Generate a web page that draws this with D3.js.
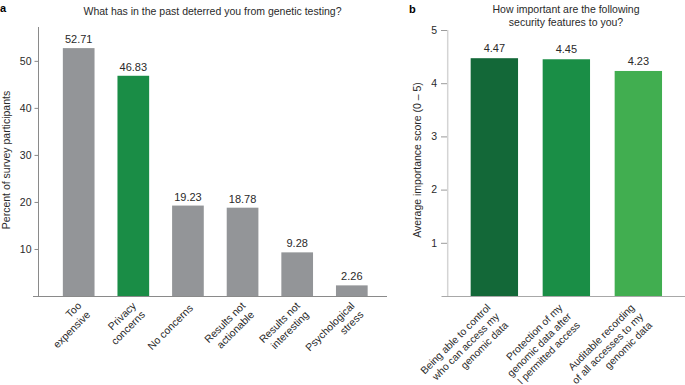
<!DOCTYPE html>
<html><head><meta charset="utf-8">
<script src="https://cdn.jsdelivr.net/npm/d3@7"></script>
<style>
html,body{margin:0;padding:0;background:#fff;}
svg{display:block;font-family:"Liberation Sans",Arial,Helvetica,sans-serif;}
</style></head>
<body><svg id="c" width="685" height="385"></svg>
<script>
// Panel a data
const catsA = [["Too","expensive"],["Privacy","concerns"],["No concerns"],["Results not","actionable"],["Results not","interesting"],["Psychological","stress"]];
const valsA = [52.71, 46.83, 19.23, 18.78, 9.28, 2.26];
const colorsA = ["#939598","#1a8d46","#939598","#939598","#939598","#939598"];
const ticksA = [10, 20, 30, 40, 50];
// Panel b data
const catsB = [["Being able to control","who can access my","genomic data"],["Protection of my","genomic data after","I permitted access"],["Auditable recording","of all accesses to my","genomic data"]];
const valsB = [4.47, 4.45, 4.23];
const colorsB = ["#136838","#1a8e46","#41ae50"];
const ticksB = [1, 2, 3, 4, 5];

const svg = d3.select("#c");
const txt = "#2a2a2a";
const base = 296;

// ---------- Panel a ----------
const xA = d3.scaleBand().domain(d3.range(valsA.length)).range([41, 389.5]).paddingInner(0.42).paddingOuter(0.4);
const yA = d3.scaleLinear().domain([0, 57.2]).range([base, 27]);
const gA = svg.append("g");
gA.append("line").attr("x1",38.5).attr("x2",38.5).attr("y1",yA(57.2)).attr("y2",base).attr("stroke","#8a8a8a").attr("stroke-width",1);
gA.append("line").attr("x1",33).attr("x2",387).attr("y1",base+0.5).attr("y2",base+0.5).attr("stroke","#8a8a8a").attr("stroke-width",1);
const axA = gA.append("g").attr("transform","translate(38.5,0)")
  .call(d3.axisLeft(yA).tickValues(ticksA).tickFormat(d3.format("d")).tickSize(4).tickPadding(3));
axA.select(".domain").remove();
axA.selectAll(".tick line").attr("stroke","#8a8a8a");
axA.selectAll(".tick text").attr("fill",txt).style("font-size","10.5px").style("font-family","inherit");
gA.selectAll("rect.bar").data(valsA).join("rect").attr("class","bar")
  .attr("x",(d,i)=>xA(i)).attr("width",xA.bandwidth())
  .attr("y",d=>yA(d)).attr("height",d=>base-yA(d))
  .attr("fill",(d,i)=>colorsA[i]);
gA.selectAll("text.val").data(valsA).join("text").attr("class","val")
  .attr("x",(d,i)=>xA(i)+xA.bandwidth()/2).attr("y",d=>yA(d)-5)
  .attr("text-anchor","middle").attr("fill",txt).style("font-size","11px")
  .text(d=>d.toFixed(2));
catsA.forEach((lines,i)=>{
  const cx = xA(i)+xA.bandwidth()/2;
  const g = gA.append("g").attr("transform",`translate(${cx},${base}) rotate(-45)`);
  const n = lines.length;
  const p0 = 9.4 - (n-1)*3.3;
  lines.forEach((l,k)=>{
    g.append("text").attr("x",-5).attr("y",p0 + k*12.6 + 3.7)
      .attr("text-anchor","end").attr("fill",txt).style("font-size","10.5px").text(l);
  });
});
gA.append("text").attr("transform",`translate(9.5,160) rotate(-90)`).attr("text-anchor","middle")
  .attr("fill",txt).style("font-size","10.5px").text("Percent of survey participants");
gA.append("text").attr("x",212.5).attr("y",15).attr("text-anchor","middle").attr("fill",txt)
  .style("font-size","10.5px").text("What has in the past deterred you from genetic testing?");
svg.append("text").attr("x",0).attr("y",12).attr("fill","#000").style("font-size","11px").style("font-weight","bold").text("a");

// ---------- Panel b ----------
const xB = d3.scaleBand().domain(d3.range(valsB.length)).range([447.7, 685]).paddingInner(0.342).paddingOuter(0.319);
const yB = d3.scaleLinear().domain([0, 5]).range([base, 30]);
const gB = svg.append("g");
gB.append("line").attr("x1",447.7).attr("x2",447.7).attr("y1",yB(5)).attr("y2",base).attr("stroke","#d4d4d4").attr("stroke-width",1.5);
gB.append("line").attr("x1",441.5).attr("x2",685).attr("y1",base+0.5).attr("y2",base+0.5).attr("stroke","#a8a8a8").attr("stroke-width",1);
const axB = gB.append("g").attr("transform","translate(447,0)")
  .call(d3.axisLeft(yB).tickValues(ticksB).tickFormat(d3.format("d")).tickSize(6).tickPadding(4));
axB.select(".domain").remove();
axB.selectAll(".tick line").attr("stroke","#9a9a9a");
axB.selectAll(".tick text").attr("fill",txt).style("font-size","10.5px").style("font-family","inherit");
gB.selectAll("rect.bar").data(valsB).join("rect").attr("class","bar")
  .attr("x",(d,i)=>xB(i)).attr("width",xB.bandwidth())
  .attr("y",d=>yB(d)).attr("height",d=>base-yB(d))
  .attr("fill",(d,i)=>colorsB[i]);
gB.selectAll("text.val").data(valsB).join("text").attr("class","val")
  .attr("x",(d,i)=>xB(i)+xB.bandwidth()/2).attr("y",d=>yB(d)-6)
  .attr("text-anchor","middle").attr("fill",txt).style("font-size","11px")
  .text(d=>d.toFixed(2));
catsB.forEach((lines,i)=>{
  const cx = xB(i)+xB.bandwidth()/2;
  const g = gB.append("g").attr("transform",`translate(${cx},${base}) rotate(-45)`);
  const n = lines.length;
  const p0 = 9.4 - (n-1)*3.3;
  lines.forEach((l,k)=>{
    g.append("text").attr("x",-11).attr("y",p0 + k*12.4 + 3.7)
      .attr("text-anchor","end").attr("fill",txt).style("font-size","10.3px").text(l);
  });
});
gB.append("text").attr("transform",`translate(420.5,160) rotate(-90)`).attr("text-anchor","middle")
  .attr("fill",txt).style("font-size","10.5px").text("Average importance score (0 – 5)");
gB.append("text").attr("x",566).attr("y",13).attr("text-anchor","middle").attr("fill",txt)
  .style("font-size","10.5px").text("How important are the following");
gB.append("text").attr("x",566).attr("y",25.5).attr("text-anchor","middle").attr("fill",txt)
  .style("font-size","10.5px").text("security features to you?");
svg.append("text").attr("x",409).attr("y",13).attr("fill","#000").style("font-size","11px").style("font-weight","bold").text("b");
</script></body></html>
